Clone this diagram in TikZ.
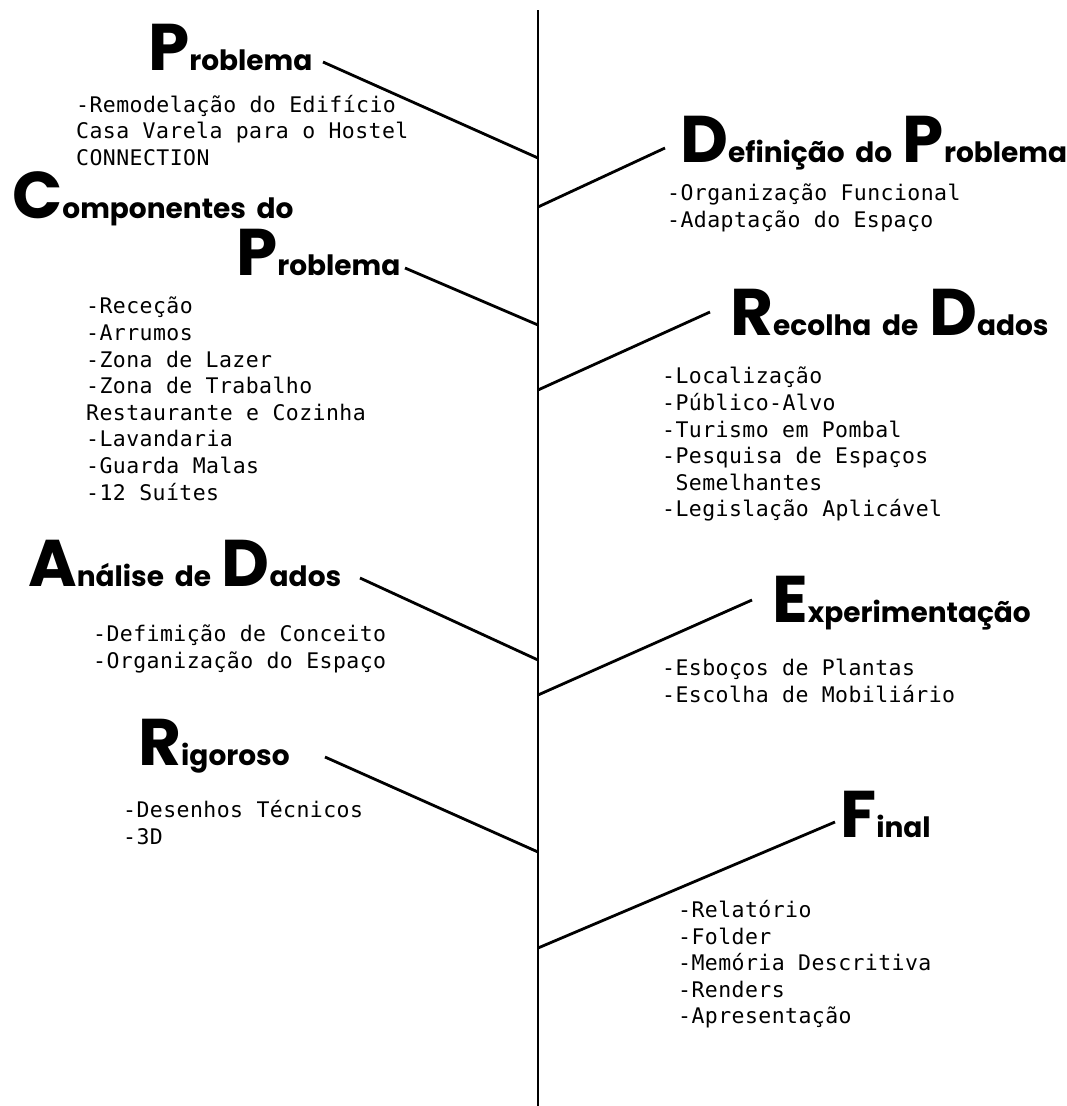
\documentclass[tikz,border=0pt]{standalone}
\usepackage{fontspec}
\newfontfamily\headfont{Poppins}[UprightFont=* Bold,WordSpace=1.8]
\newfontfamily\bodyfont{DejaVu Sans Mono}[LetterSpace=2]
\newcommand{\Ini}[1]{{\fontsize{66}{66}\selectfont #1}}
\begin{document}
\begin{tikzpicture}[x=1pt,y=-1pt,
  head/.style={anchor=base west,inner sep=0pt,font=\headfont\fontsize{28}{28}\selectfont},
  body/.style={anchor=north west,inner sep=0pt,align=left,font=\bodyfont\fontsize{21.5}{26.6}\selectfont},
  branch/.style={line width=2.8pt,black}]
\useasboundingbox[fill=white] (0,0) rectangle (1066,1106);
% spine
\coordinate (top) at (538,10);
\coordinate (bot) at (538,1106);
\draw[branch] (top) -- (bot);
% junctions on the spine
\coordinate (j1) at (538,158);
\coordinate (j2) at (538,207);
\coordinate (j3) at (538,325);
\coordinate (j4) at (538,390);
\coordinate (j5) at (538,660);
\coordinate (j6) at (538,695);
\coordinate (j7) at (538,852);
\coordinate (j8) at (538,948);
% free ends of branches
\coordinate (e1) at (323,62);
\coordinate (e2) at (665,148);
\coordinate (e3) at (405,268);
\coordinate (e4) at (710,312);
\coordinate (e5) at (360,578);
\coordinate (e6) at (752,600);
\coordinate (e7) at (325,757);
\coordinate (e8) at (835,822);
\draw[branch] (e1) -- (j1);
\draw[branch] (j2) -- (e2);
\draw[branch] (e3) -- (j3);
\draw[branch] (j4) -- (e4);
\draw[branch] (e5) -- (j5);
\draw[branch] (j6) -- (e6);
\draw[branch] (e7) -- (j7);
\draw[branch] (j8) -- (e8);
% headings
\node[head] (h1) at (148,70) {\Ini{P}roblema};
\node[head] (h2) at (680,162) {\Ini{D}efinição do \Ini{P}roblema};
\node[head] (h3) at (12,218) {\Ini{C}omponentes do};
\node[head] (h3b) at (236,275) {\Ini{P}roblema};
\node[head] (h4) at (730,335) {\Ini{R}ecolha de \Ini{D}ados};
\node[head] (h5) at (28,586) {\Ini{A}nálise de \Ini{D}ados};
\node[head] (h6) at (772,622) {\Ini{E}xperimentação};
\node[head] (h7) at (138,765) {\Ini{R}igoroso};
\node[head] (h8) at (840,837) {\Ini{F}inal};
% lists
\node[body] (b1) at (76,95) {-Remodelação do Edifício\\Casa Varela para o Hostel\\CONNECTION};
\node[body] (b2) at (667,184) {-Organização Funcional\\-Adaptação do Espaço};
\node[body] (b3) at (86,297) {-Receção\\-Arrumos\\-Zona de Lazer\\-Zona de Trabalho\\Restaurante e Cozinha\\-Lavandaria\\-Guarda Malas\\-12 Suítes};
\node[body] (b4) at (662,367) {-Localização\\-Público-Alvo\\-Turismo em Pombal\\-Pesquisa de Espaços\\\ Semelhantes\\-Legislação Aplicável};
\node[body] (b5) at (93,625) {-Defimição de Conceito\\-Organização do Espaço};
\node[body] (b6) at (662,659) {-Esboços de Plantas\\-Escolha de Mobiliário};
\node[body] (b7) at (123,800) {-Desenhos Técnicos\\-3D};
\node[body] (b8) at (678,900) {-Relatório\\-Folder\\-Memória Descritiva\\-Renders\\-Apresentação};
\end{tikzpicture}
\end{document}
